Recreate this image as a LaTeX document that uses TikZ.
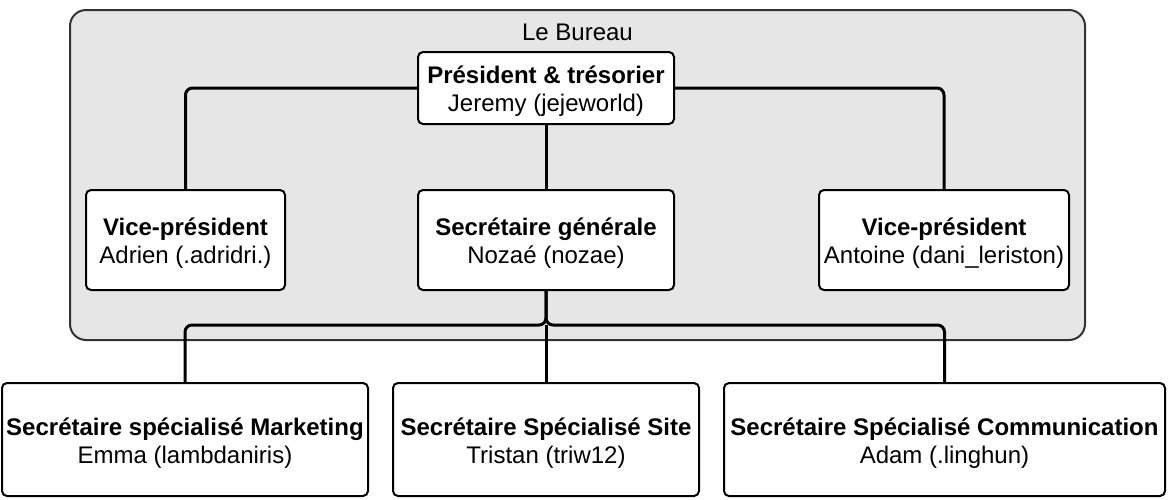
\documentclass[tikz,border=0pt]{standalone}
\usepackage{fontspec}
\setmainfont{Liberation Sans}
\definecolor{bureaufill}{HTML}{E6E6E6}
\definecolor{bureauline}{HTML}{333333}
\tikzset{
  rolebox/.style={draw=black, line width=2pt, fill=white, rounded corners=5pt,
    align=center, inner sep=0pt, font=\fontsize{24}{28}\selectfont},
  link/.style={draw=black, line width=3pt, rounded corners=7pt},
}
\newcommand{\role}[2]{\rule{0pt}{24pt}\textbf{#1}\\#2}
\begin{document}
\begin{tikzpicture}[x=1pt,y=-1pt]
\useasboundingbox (0,0) rectangle (1171,499);
\node[draw=bureauline, fill=bureaufill, line width=2pt, rounded corners=16pt,
  minimum width=1015pt, minimum height=330pt, inner sep=0pt] (bureau) at (577.5,175) {};
\node[font=\fontsize{24}{28}\selectfont] (title) at (577.5,32) {Le Bureau};
\node[rolebox, minimum width=256pt, minimum height=72pt] (pres) at (546,88)
  {\role{Président \& trésorier}{Jeremy (jejeworld)}};
\node[rolebox, minimum width=199pt, minimum height=100pt] (vpl) at (185.5,240)
  {\role{Vice-président}{Adrien (.adridri.)}};
\node[rolebox, minimum width=256pt, minimum height=100pt] (sg) at (546,240)
  {\role{Secrétaire générale}{Nozaé (nozae)}};
\node[rolebox, minimum width=250pt, minimum height=100pt] (vpr) at (944,240)
  {\role{Vice-président}{Antoine (dani\_leriston)}};
\node[rolebox, minimum width=366pt, minimum height=113pt] (mk) at (185,439.5)
  {\role{Secrétaire spécialisé Marketing}{Emma (lambdaniris)}};
\node[rolebox, minimum width=306pt, minimum height=113pt] (site) at (546,439.5)
  {\role{Secrétaire Spécialisé Site}{Tristan (triw12)}};
\node[rolebox, minimum width=441pt, minimum height=113pt] (com) at (944.5,439.5)
  {\role{Secrétaire Spécialisé Communication}{Adam (.linghun)}};
\coordinate (j) at (546,325);
\path[link] (pres.west) -| (vpl.north);
\path[link] (pres.east) -| (vpr.north);
\path[link] (pres.south) -- (sg.north);
\path[link] (sg.south) -- (j) -| (mk.north);
\path[link] (sg.south) -- (j) -| (com.north);
\path[link] (j) -- (site.north);
\end{tikzpicture}
\end{document}
